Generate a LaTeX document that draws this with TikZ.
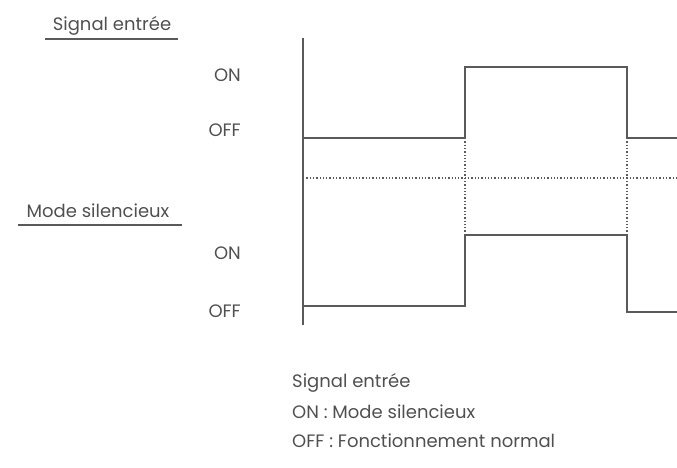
\documentclass[tikz,border=0pt]{standalone}
\usepackage{fontspec}
\setmainfont{Poppins}
\usepackage{xcolor}
\definecolor{wavegray}{HTML}{5A5A5A}
\definecolor{textgray}{HTML}{505050}
\usetikzlibrary{positioning}

\begin{document}
\begin{tikzpicture}[x=1pt, y=-1pt, font=\fontsize{18}{21}\selectfont, text=textgray,
  wave/.style={draw=wavegray, line width=1.6pt, line join=miter},
  guide/.style={draw=wavegray, line width=1.3pt, dotted},
  lvl/.style={anchor=east, inner sep=0pt},
  title/.style={anchor=base, inner sep=0pt},
  legend/.style={anchor=base west, inner sep=0pt}]
\useasboundingbox (0,0) rectangle (677,467);
%% labels
\node[title] (tin) at (112,30) {Signal entrée};
\coordinate (tinL) at (45,39);
\coordinate (tinR) at (178,39);
\node[lvl] (on1) at (241,75) {ON};
\node[lvl] (off1) at (241,130) {OFF};
\node[title] (tmode) at (98,217) {Mode silencieux};
\coordinate (tmodeL) at (18,225);
\coordinate (tmodeR) at (182,225);
\node[lvl] (on2) at (241,253) {ON};
\node[lvl] (off2) at (241,311) {OFF};
\draw[wave, line width=1.4pt] (tinL) -- (tinR);
\draw[wave, line width=1.4pt] (tmodeL) -- (tmodeR);
%% axis
\coordinate (axT) at (303,38);
\coordinate (axB) at (303,325);
\draw[wave] (axT) -- (axB);
%% input signal
\coordinate (a0) at (303,138);
\coordinate (a1) at (465,138);
\coordinate (a2) at (465,67);
\coordinate (a3) at (627,67);
\coordinate (a4) at (627,138);
\coordinate (a5) at (677,138);
\draw[wave] (a0) -- (a1) -- (a2) -- (a3) -- (a4) -- (a5);
%% silent mode
\coordinate (b0) at (303,306);
\coordinate (b1) at (465,306);
\coordinate (b2) at (465,235);
\coordinate (b3) at (627,235);
\coordinate (b4) at (627,312);
\coordinate (b5) at (677,312);
\draw[wave] (b0) -- (b1) -- (b2) -- (b3) -- (b4) -- (b5);
%% guides
\coordinate (mL) at (303,178);
\coordinate (mR) at (677,178);
\draw[guide] (mL) -- (mR);
\draw[guide] (a1) -- (b2);
\draw[guide] (a4) -- (b3);
%% legend
\node[legend] (l1) at (292,387) {Signal entrée};
\node[legend] (l2) at (292,418) {ON : Mode silencieux};
\node[legend] (l3) at (292,447) {OFF : Fonctionnement normal};
\end{tikzpicture}
\end{document}
